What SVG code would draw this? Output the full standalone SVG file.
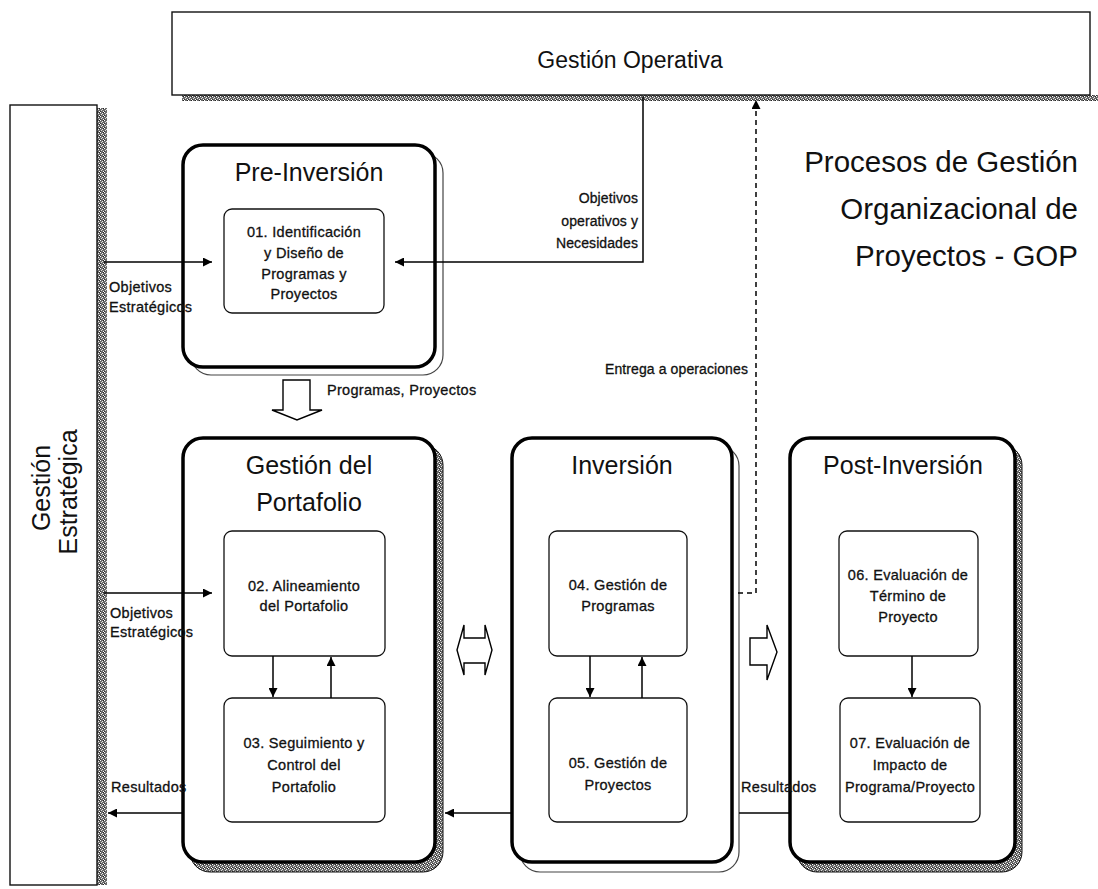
<svg xmlns="http://www.w3.org/2000/svg" width="1098" height="889" viewBox="0 0 1098 889">
  <defs>
    <!-- speckled grey fill used for the drop-shadow strips -->
    <pattern id="grain" width="4" height="4" patternUnits="userSpaceOnUse">
      <rect width="4" height="4" fill="#6a6a6a"/>
      <rect x="0" y="0" width="1" height="1" fill="#fff"/>
      <rect x="2" y="1" width="1" height="1" fill="#eee"/>
      <rect x="1" y="2" width="1" height="1" fill="#ddd"/>
      <rect x="3" y="3" width="1" height="1" fill="#fff"/>
      <rect x="3" y="0" width="1" height="1" fill="#222"/>
      <rect x="0" y="3" width="1" height="1" fill="#333"/>
    </pattern>
    <marker id="ah" viewBox="0 0 10 10" refX="10" refY="5" markerWidth="10" markerHeight="9" markerUnits="userSpaceOnUse" orient="auto">
      <path d="M0,0 L10,5 L0,10 z" fill="#000"/>
    </marker>
  </defs>
  <style>
    text { font-family: "Liberation Sans", Arial, sans-serif; fill: #111; }
    .big { font-size: 25px; text-anchor: middle; }
    .head { font-size: 23px; text-anchor: middle; }
    .gop { font-size: 29.5px; text-anchor: end; }
    .node { font-size: 14.5px; letter-spacing: 0.3px; text-anchor: middle; stroke: #111; stroke-width: 0.3px; }
    .lbl { font-size: 14.5px; letter-spacing: 0.3px; stroke: #111; stroke-width: 0.3px; }
    .lblr { font-size: 14px; letter-spacing: 0.1px; text-anchor: end; stroke: #111; stroke-width: 0.3px; }
    .phase { fill: #fff; stroke: #000; stroke-width: 3.5; }
    .ghost { fill: #fff; stroke: #444; stroke-width: 1.2; }
    .grainy { fill: url(#grain); stroke: #111; stroke-width: 1; }
    .task { fill: #fff; stroke: #111; stroke-width: 1.3; }
    .band { fill: #fff; stroke: #111; stroke-width: 1.4; }
    .wire { fill: none; stroke: #000; stroke-width: 1.5; }
    .dash { fill: none; stroke: #000; stroke-width: 1.5; stroke-dasharray: 5 4; }
    .hollow { fill: #fff; stroke: #000; stroke-width: 1.4; stroke-linejoin: miter; }
  </style>

  <!-- Gestión Operativa band -->
  <g id="gestion-operativa">
    <rect x="182" y="95" width="916" height="6" fill="url(#grain)"/>
    <rect class="band" x="172" y="12" width="918" height="83"/>
    <text class="head" x="630" y="68">Gestión Operativa</text>
  </g>

  <!-- Gestión Estratégica band -->
  <g id="gestion-estrategica">
    <rect x="97" y="108" width="10" height="777" fill="url(#grain)"/>
    <rect class="band" x="10" y="105" width="87" height="780"/>
    <text class="big" transform="translate(50,488) rotate(-90)">Gestión</text>
    <text class="big" transform="translate(77,492) rotate(-90)">Estratégica</text>
  </g>

  <!-- GOP title -->
  <g id="titulo-gop">
    <text class="gop" x="1078" y="172">Procesos de Gestión</text>
    <text class="gop" x="1078" y="219">Organizacional de</text>
    <text class="gop" x="1078" y="266">Proyectos - GOP</text>
  </g>

  <!-- Pre-Inversión -->
  <g id="pre-inversion">
    <rect class="ghost" x="191" y="153" width="252" height="222" rx="20"/>
    <rect class="phase" x="183" y="145" width="252" height="222" rx="20"/>
    <text class="big" x="309" y="181">Pre-Inversión</text>
  </g>
  <g id="p01">
    <rect class="task" x="224" y="209" width="160" height="104" rx="8"/>
    <text class="node" x="304" y="237">01. Identificación</text>
    <text class="node" x="304" y="258">y Diseño de</text>
    <text class="node" x="304" y="279">Programas y</text>
    <text class="node" x="304" y="299">Proyectos</text>
  </g>

  <!-- Gestión del Portafolio -->
  <g id="gestion-portafolio">
    <rect class="grainy" x="190" y="445" width="253" height="427" rx="20"/>
    <rect class="phase" x="183" y="438" width="252" height="424" rx="20"/>
    <text class="big" x="309" y="474">Gestión del</text>
    <text class="big" x="309" y="511">Portafolio</text>
  </g>
  <g id="p02">
    <rect class="task" x="224" y="531" width="161" height="125" rx="8"/>
    <text class="node" x="304" y="591">02. Alineamiento</text>
    <text class="node" x="304" y="611">del Portafolio</text>
  </g>
  <g id="p03">
    <rect class="task" x="224" y="698" width="161" height="124" rx="8"/>
    <text class="node" x="304" y="748">03. Seguimiento y</text>
    <text class="node" x="304" y="770">Control del</text>
    <text class="node" x="304" y="792">Portafolio</text>
  </g>

  <!-- Inversión -->
  <g id="inversion">
    <rect class="ghost" x="520" y="446" width="219" height="426" rx="20"/>
    <rect class="phase" x="512" y="438" width="220" height="424" rx="20"/>
    <text class="big" x="622" y="474">Inversión</text>
  </g>
  <g id="p04">
    <rect class="task" x="549" y="531" width="138" height="125" rx="8"/>
    <text class="node" x="618" y="590">04. Gestión de</text>
    <text class="node" x="618" y="611">Programas</text>
  </g>
  <g id="p05">
    <rect class="task" x="549" y="698" width="138" height="124" rx="8"/>
    <text class="node" x="618" y="768">05. Gestión de</text>
    <text class="node" x="618" y="790">Proyectos</text>
  </g>

  <!-- Post-Inversión -->
  <g id="post-inversion">
    <rect class="grainy" x="797" y="445" width="225" height="427" rx="20"/>
    <rect class="phase" x="790" y="438" width="225" height="424" rx="20"/>
    <text class="big" x="903" y="474">Post-Inversión</text>
  </g>
  <g id="p06">
    <rect class="task" x="839" y="531" width="139" height="125" rx="8"/>
    <text class="node" x="908" y="580">06. Evaluación de</text>
    <text class="node" x="908" y="601">Término de</text>
    <text class="node" x="908" y="622">Proyecto</text>
  </g>
  <g id="p07">
    <rect class="task" x="840" y="698" width="140" height="124" rx="8"/>
    <text class="node" x="910" y="748">07. Evaluación de</text>
    <text class="node" x="910" y="770">Impacto de</text>
    <text class="node" x="910" y="792">Programa/Proyecto</text>
  </g>

  <!-- connectors -->
  <g id="conectores">
    <!-- strategic objectives into 01 and 02 -->
    <line class="wire" x1="104" y1="262" x2="212" y2="262" marker-end="url(#ah)"/>
    <line class="wire" x1="104" y1="593" x2="212" y2="593" marker-end="url(#ah)"/>
    <!-- operational objectives into 01 -->
    <polyline class="wire" points="643,97 643,262 395,262" marker-end="url(#ah)"/>
    <!-- hand-over to operations -->
    <polyline class="dash" points="738,593 756,593 756,100" marker-end="url(#ah)"/>
    <!-- 02 / 03 loop -->
    <line class="wire" x1="273" y1="656" x2="273" y2="697" marker-end="url(#ah)"/>
    <line class="wire" x1="331" y1="698" x2="331" y2="657" marker-end="url(#ah)"/>
    <!-- 04 / 05 loop -->
    <line class="wire" x1="590" y1="656" x2="590" y2="697" marker-end="url(#ah)"/>
    <line class="wire" x1="642" y1="698" x2="642" y2="657" marker-end="url(#ah)"/>
    <!-- 06 to 07 -->
    <line class="wire" x1="912" y1="656" x2="912" y2="697" marker-end="url(#ah)"/>
    <!-- results back to the portfolio and to strategy -->
    <line class="wire" x1="790" y1="813" x2="739" y2="813"/>
    <line class="wire" x1="512" y1="813" x2="445" y2="813" marker-end="url(#ah)"/>
    <line class="wire" x1="183" y1="813" x2="108" y2="813" marker-end="url(#ah)"/>
    <!-- block arrows between phases -->
    <polygon class="hollow" points="283,380 310,380 310,410 322,410 297,420 272,410 283,410"/>
    <polygon class="hollow" points="457,650 464,625 464,638 485,638 485,625 492,650 485,675 485,663 464,663 464,675"/>
    <polygon class="hollow" points="750,638 767,638 767,625 777,652 767,680 767,665 750,665"/>
  </g>

  <!-- connector labels -->
  <g id="etiquetas">
    <text class="lbl" x="109" y="292">Objetivos</text>
    <text class="lbl" x="109" y="312">Estratégicos</text>
    <text class="lbl" x="110" y="618">Objetivos</text>
    <text class="lbl" x="110" y="637">Estratégicos</text>
    <text class="lblr" x="638" y="203">Objetivos</text>
    <text class="lblr" x="638" y="226">operativos y</text>
    <text class="lblr" x="638" y="248">Necesidades</text>
    <text class="lbl" x="327" y="395">Programas, Proyectos</text>
    <text class="lblr" x="748" y="374">Entrega a operaciones</text>
    <text class="lbl" x="111" y="792">Resultados</text>
    <text class="lbl" x="741" y="792">Resultados</text>
  </g>
</svg>
